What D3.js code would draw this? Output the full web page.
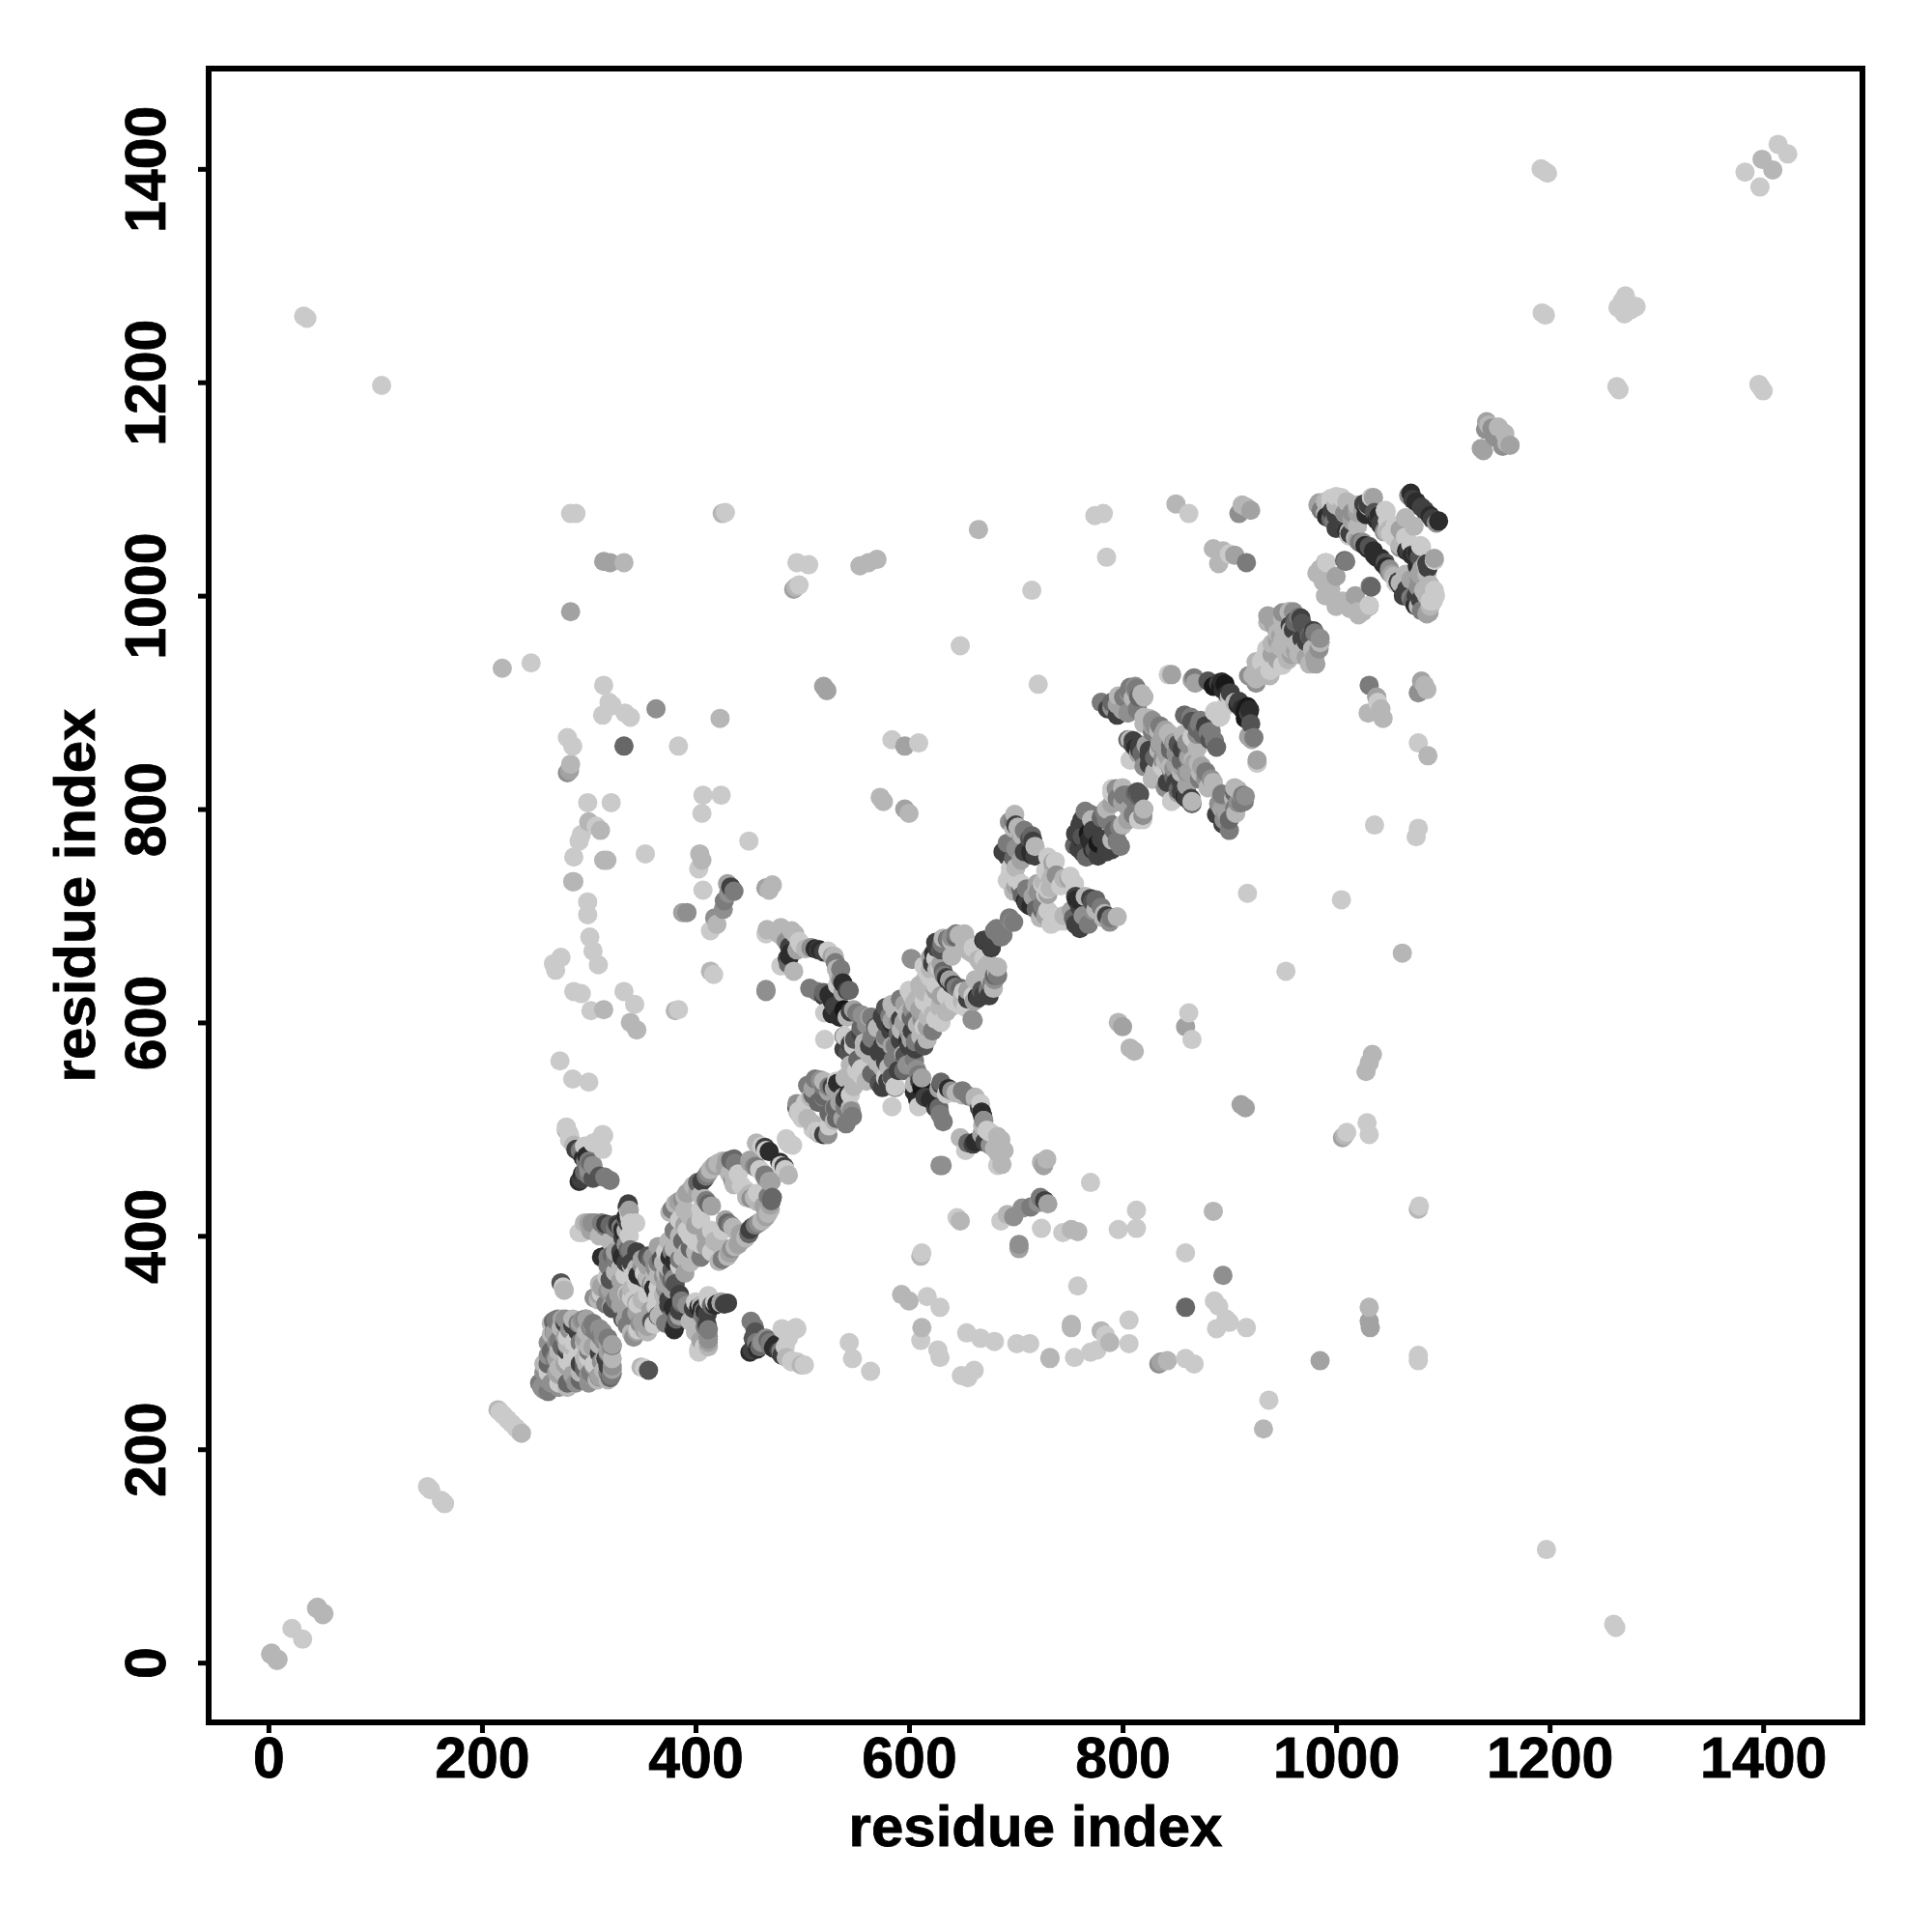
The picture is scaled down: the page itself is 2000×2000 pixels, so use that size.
<!DOCTYPE html>
<html><head><meta charset="utf-8">
<script src="https://cdn.jsdelivr.net/npm/d3@7/dist/d3.min.js"></script>
<style>html,body{margin:0;padding:0;background:#fff}svg{display:block}</style>
</head><body><svg id="c" width="2000" height="2000"></svg>
<script>
// Each contact: [residue i, residue j, strength 0..9]. The map is symmetric, so each is drawn at (i,j) and (j,i).
const termini = [[8,2,1],[9,3,1],[32,22,0],[51,45,1],[52,46,1],[164,150,0],[162,152,0],[165,149,0],
 [235,217,0],[232,220,0],[228,224,0],[237,215,1],[1262,33,0],[1260,36,0],[1197,106,0],
 [1398,1195,0],[1400,1192,0],[1396,1198,0],[1263,1196,0],[1265,1193,0],[1281,1271,0],[1270,1264,0],[1276,1268,0],
 [1397,1383,0],[1409,1399,1],[1423,1414,0],[1163,1141,2],[1157,1146,3],[1160,1143,1],[1156,1140,3],[1150,1148,3],[1158,1152,1],[1138,1136,2]];

const farContacts = [[1077,283,0],[1077,288,0],[1077,425,1],[1078,428,0],[1062,665,1],[1075,774,0],[1077,782,0],[1036,785,0],
 [1086,850,1],[1077,862,0],[1077,909,3],[1083,916,1],[1085,912,1],[1080,920,2],[1032,314,2],[1031,320,2],[1031,333,1],
 [1008,494,1],[1006,492,2],[1010,497,0],[1031,495,0],[1029,506,0],[1028,554,1],[1031,562,1],[1034,570,1],[1005,715,0],
 [1044,885,1],[1042,894,1],[1038,905,2],[1031,916,4],[1030,890,1],[1039,900,0],[985,283,2],[953,648,0],[932,219,1],[937,246,0],
 [915,520,2],[911,523,2],[917,721,0],[926,843,0],[921,865,1],[918,868,2],[916,314,0],[900,319,0],[888,313,0],[890,334,0],[886,339,0],[897,322,0],
 [894,363,3],[885,423,1],[859,333,5],[859,384,0],[867,280,0],[859,285,0],[834,280,3],[842,283,1],[836,282,2],
 [865,584,0],[859,596,2],[862,609,0],[806,299,0],[806,321,0],[813,407,0],[813,424,0],[796,406,0],[811,573,1],[807,576,1],[800,596,2],[796,600,1],
 [788,300,1],[784,307,0],[780,311,1],[752,314,1],[752,317,1],[776,293,0],[770,291,0],[755,286,0],[732,286,1],[732,285,1],[758,353,0],
 [758,404,1],[752,406,1],[744,403,0],[724,407,0],[770,450,0],[721,431,3],[714,427,4],[706,426,3],[698,418,3],[686,414,0],[692,420,1],[703,392,3],[703,388,2],
 [726,466,1],[724,469,1],[729,472,1],[713,299,0],[701,299,0],[680,301,0],[667,304,0],[654,309,0],[649,269,0],[661,274,0],[655,267,0],
 [629,286,0],[627,293,0],[611,302,0],[612,314,1],[629,333,0],[617,343,0],[600,339,1],[593,345,1],[611,381,1],[612,384,0],[648,414,1],[645,417,0],[631,466,3],[564,273,0],
 [547,285,0],[544,300,0],[584,521,0],[502,279,0],[490,282,0],[494,314,0],[687,467,1],[680,482,1],[466,629,3],[342,340,0],[466,726,2]];

const farCluster = [[683,478,1],[686,490,1],[676,497,0],[670,508,1],[668,516,1],[662,530,1],[650,536,4],[630,544,5],[628,538,2],[612,548,2],[605,542,1],
 [578,548,0],[723,436,4],[727,433,7],[730,430,2]];

const hairpins = [[499,279,1],[490,283,0],[481,288,7],[478,292,7],[475,298,8],[470,300,4],[466,304,3],[451,291,8],[455,296,7],[457,300,4],[456,310,6],[452,320,4],
 [495,313,0],[487,304,0],[481,313,0],[490,310,0],[484,296,0],
 [403,291,0],[412,300,2],[412,306,3],[412,312,4],[410,320,5],[407,325,4],[406,332,8],[412,337,7],[424,337,0],[430,337,7],[412,344,0],[418,338,0],
 [381,316,8],[382,322,5],[380,331,8],[387,337,5],[385,345,7],[381,355,6],[378,350,2],[372,340,1],
 [359,320,6],[345,310,2],[342,305,3],[332,322,6],[336,316,4],[321,334,2],[312,346,0],[317,361,0],[312,352,2],[309,340,1],[345,337,2],[336,346,0],[342,364,0],[351,361,8],[363,346,8],[359,355,4],[363,334,0],
 [379,333,8],[387,339,4],[380,318,4],[380,312,8],[403,333,8],[412,339,0],[427,336,7],[409,315,4],[412,303,3],[403,294,0],[408,330,4]];

const hairpinFill = [[345,328,2],[350,340,1],[355,345,0],[365,352,0],[370,345,1],[372,355,2],[365,362,1],[375,362,3],[358,330,2],[366,325,1],[372,318,4],[385,325,2],[392,335,3],[398,332,7],[395,320,1],[400,310,1],[405,302,2],[418,335,8],[424,338,2],[375,335,7],[370,330,1],[350,320,2],[355,310,1],[340,325,3],[330,335,2],[325,340,4],[318,348,3],[315,355,2],[325,365,6],[330,370,1],[340,375,7],[350,372,3],[358,378,5],[365,375,4],[330,385,7],[325,378,4],
 [408,296,0],[412,296,1],[411,316,7],[411,327,7],[409,329,8],[415,335,5],[420,336,8],[405,335,1],[400,338,0],
 [458,294,8],[453,293,7],[460,296,5],[462,300,3],[454,304,6],[455,315,4],[473,295,8],[480,292,4],[485,286,1],[495,282,0],[470,297,4],[468,302,5]];

const blob = [[262,254,4],[256,258,3],[280,258,1],[288,262,3],[292,265,5],[310,268,8],[318,265,1],[322,271,4],[265,262,3],[272,262,0],[270,272,2],[276,272,1],
 [296,275,5],[285,270,2],[300,270,1],[322,275,2],[318,278,7],[305,278,2],[283,280,0],[288,285,0],[296,285,1],[315,285,1],[280,296,5],[270,300,3],[292,300,4],
 [300,290,0],[310,290,7],[322,297,4],[318,300,2],[314,303,3],[311,306,4],[321,269,4],[321,294,3],[314,302,4],[356,274,6],[352,276,0],[349,277,1],
 [262,300,3],[268,310,2],[272,318,4],[278,322,3],[285,316,7],[290,318,4],[298,322,2],[304,318,4],[310,313,3],[278,280,2],[268,285,4],[262,280,5],[258,272,3],[272,292,1],[286,300,0],[280,305,0],[290,295,0],[296,300,1],[304,296,2],[310,298,1],[318,292,2],[322,285,1],[292,280,7],[298,280,1],[302,272,4],[308,265,1],[314,274,1],[312,282,3],[320,267,5]];

const helixA = [[380,376,8],[378,368,6],[385,372,0],[390,365,2],[380,360,3],[372,365,1],[360,355,1],[395,375,1],[405,380,4],[392,385,1],[415,385,0],[400,395,0],[405,392,0],[410,400,2],[418,395,1],[424,390,1],
 [430,381,1],[434,388,3],[440,392,2],[447,398,1],[451,406,7],[456,410,4],[462,414,1],[466,418,2],[470,425,1],[468,437,4],[471,433,5],[430,412,5],[435,408,1],[451,439,1],[447,443,0],[455,436,1],[448,436,1],
 [487,457,1],[484,462,0],[480,466,0],[479,469,8],[483,465,7],[469,451,2],[471,451,2],[465,455,3],[465,457,4],[462,460,0],[491,485,0],[488,486,0],
 [517,497,0],[513,498,0],[510,500,0],[510,505,1],[516,496,1],[520,495,7],[524,495,3],
 [432,384,2],[437,390,1],[444,396,2],[450,402,5],[453,408,7],[459,412,3],[464,416,1],[468,421,1],[470,429,2],[472,436,5],[425,378,4],[422,376,1],[428,415,2],[433,410,4],[438,405,1],[442,402,2],[425,405,0],[415,405,0],[410,390,2],[400,385,1],[395,388,5],[388,380,1],[385,378,4],[375,370,1],[370,362,3],[452,435,3],[458,432,1],[464,428,2],[458,440,0]];

const crossArms = [[547,512,4],[541,505,4],[543,533,8],[532,545,0],[531,520,5],[520,530,3],[517,546,3],[555,551,0],[556,557,0],[535,525,2],[525,540,4],
 [683,466,0],[689,480,1],[683,493,1],[673,499,0],[665,489,8],[660,486,7],[648,492,1],[653,480,0],[670,508,3],[668,516,8],[667,524,0],[656,531,4],[644,534,1],[630,542,7],[635,533,0],
 [632,507,4],[629,514,4],[626,525,8],[615,530,7],[608,528,8],[612,539,9],[609,551,4],[605,563,2],[609,521,0],
 [587,539,4],[584,548,0],[575,539,7],[578,563,7],[572,572,7],[581,558,1],[587,540,0],[572,543,6],[584,549,6],[555,556,0],
 [602,584,2],[617,596,2],[614,578,6],[623,608,1],[620,614,0],[629,614,0],[614,596,0],[605,602,5],[593,593,1],[599,584,8],[611,587,1],[587,578,4],[584,578,2],[596,569,6],[605,565,4],[614,629,1],[623,623,0],[600,590,3],[608,598,1],
 [676,485,3],[671,488,7],[668,495,2],[662,488,8],[655,487,5],[669,503,1],[669,512,8],[666,520,7],[662,528,2],[650,532,1],[637,538,8],[640,536,3],[625,520,7],[628,520,5],[620,528,8],[605,535,8],[610,545,7],[607,556,3],[606,575,7],[598,560,3],[595,555,5],[590,555,7],[560,545,1],[565,552,5],[575,558,1],[580,545,7],[548,540,1],[545,520,1],[538,510,2],[530,508,1],[525,503,0],[528,540,7],[538,530,2],[520,540,4],[515,525,5],[510,532,5],[595,600,2],[600,610,1],[610,612,2],[618,605,1],[625,603,0],[630,600,0],[612,603,3],[603,592,7],[590,590,5],[592,583,7],[606,582,4],[617,584,1],[622,592,4],[630,620,1],[635,625,0],[640,615,1],[635,610,1],[625,630,2],[600,578,7],[595,570,1],[585,565,4],[578,575,7],[570,563,1]];

const helixB = [[682,650,1],[683,644,4],[679,632,1],[670,626,7],[664,624,8],[659,603,3],[650,626,1],[644,633,4],[635,642,7],[629,651,0],[659,665,1],[667,656,1],[644,680,5],[631,674,4],[623,665,7],[652,683,1],[614,653,0],[602,660,3],[647,617,0],
 [677,670,8],[671,677,7],[686,680,4],[682,688,4],[697,694,3],[694,698,4],
 [676,640,1],[680,640,3],[675,625,7],[668,630,1],[662,640,1],[655,630,2],[648,632,5],[640,636,8],[638,640,2],[625,660,0],[630,668,6],[637,678,4],[647,682,1],[655,675,1],[660,670,0],[672,652,1],[678,636,5],[661,620,2],[655,622,7],[650,620,1],[642,620,0],
 [789,698,4],[783,702,1],[775,715,5],[772,713,6],[775,706,1],[757,715,8],[756,718,7],[760,708,7],[752,705,2],[756,692,7],[745,700,1],[733,692,0],[740,695,0],[723,698,1],[714,709,8],[721,722,3],[706,719,5],[750,735,2],[751,737,0],[735,750,2],[732,726,1],[725,730,0],
 [795,699,1],[785,700,7],[780,708,4],[770,716,7],[765,718,1],[760,714,8],[754,698,5],[745,695,0],[735,700,1],[728,700,2],[725,705,5],[710,712,7],[718,716,2],[735,733,1],[745,735,1],[742,728,0],[738,738,3],[755,730,0],[730,720,2],[720,728,0],[710,725,4],[705,730,0],[700,735,0],
 [788,694,3],[782,698,1],[768,692,4],[760,688,7],[763,700,3],[772,705,3],
 [798,765,4],[797,783,4],[790,771,1],[777,756,7],[777,768,9],[774,762,6],[763,759,7],[771,769,8],[819,790,0],[813,801,4],[816,814,6],[813,804,4],[819,794,3],[806,800,2],
 [785,760,7],[790,762,7],[795,770,4],[792,780,5],[785,790,4],[772,762,8],[780,772,7],[766,755,5],[805,790,2],[810,795,4],[800,785,1],[815,790,0],[820,800,1],[808,812,4],[812,815,5]];

const helixC = [[926,843,0],[921,866,2],[918,890,8],[909,901,7],[901,898,0],[893,919,8],[896,917,9],[867,923,4],[846,926,2],
 [914,807,4],[900,780,4],[894,786,7],[898,795,2],[904,810,1],[913,813,4],[893,814,4],[883,828,3],[871,843,1],[862,849,2],[852,861,6],[843,867,2],[834,873,1],[828,878,2],
 [865,807,1],[855,816,7],[846,808,0],[850,825,7],[840,837,0],[828,828,1],[834,855,1],[820,840,3],[810,864,7],[816,860,7],[807,846,0],
 [882,865,6],[886,864,4],[865,882,6],[871,876,5],[880,872,4],[865,867,0],[886,891,0],[892,887,0],[852,850,3],[860,845,5],[842,850,2],[848,838,3],
 [905,801,4],[900,790,5],[895,790,3],[908,806,3],[890,805,3],[885,825,1],[878,835,4],[874,840,2],[866,846,1],[856,856,7],[848,862,3],[838,870,2],[860,810,7],[858,812,2],[852,818,5],[842,825,7],[845,840,1],[838,845,3],[830,848,5],[825,855,7],[822,860,2],[812,858,8],[805,865,5],[815,852,2],[830,835,1],[878,878,7],[875,870,5],[870,870,3],[883,873,4],[888,858,5],[860,862,3],[857,870,1],[835,860,3],[845,855,5],[855,840,2],[862,835,2],[872,828,4],[880,820,1],[893,800,2],[888,795,7],[906,796,1],[911,806,4],[915,812,3],[905,815,5],[813,893,3],[820,886,1],[830,878,3],[912,812,3],[908,818,1],[905,820,1],
 [915,892,9],[912,894,8],[905,900,1],[898,908,8],[885,915,9],[890,918,7],[880,920,6]];

const helixC2 = [[985,956,2],[981,936,2],[976,961,6],[972,957,7],[967,979,7],[970,950,1],[965,945,1],[962,948,2],[955,940,1],[943,933,0],[938,930,0],[931,925,1],[925,918,3],[956,985,1],[960,968,2],[950,958,1],
 [975,936,1],[980,942,2],[978,950,1],[984,950,3],[972,942,2],[968,960,7],[963,955,1],[958,945,2],[952,948,1],[945,940,2],[950,935,0],[938,925,1],[925,922,1],[985,960,3],[980,965,4],[974,968,6],[962,975,5],[958,968,1],[950,978,1]];

const helixD = [[1094,1068,3],[1090,1072,7],[1088,1075,8],[1083,1080,7],[1073,1065,1],[1080,1046,0],[1079,1047,0],[1071,1038,8],[1068,1042,7],[1058,1051,0],[1060,1047,1],
 [1092,1033,0],[1080,1025,2],[1085,1020,1],[1092,1005,0],[1091,995,0],[1093,1000,0],[1077,1008,3],[1085,983,2],[1074,991,8],[1079,996,7],[1070,998,4],[1063,1000,7],[1058,1013,7],[1056,1012,0],[1050,1022,4],[1046,1031,6],
 [1047,1027,8],[1042,1035,8],[1032,1009,4],[1031,991,0],[1020,985,1],[1006,995,1],[1009,994,1],[1021,982,1],[1031,990,1],[1018,1000,2],[1087,984,2],[1077,990,1],[1096,1070,8],
 [1092,1035,2],[1086,1026,7],[1033,1008,5],
 [1085,1000,0],[1088,1010,1],[1084,1030,1],[1075,1040,1],[1066,1042,8],[1062,1050,1],[1054,1055,0],[1060,1062,2],[1055,1065,0],[1045,1060,3],[1048,1070,0],[1040,1075,8],[1030,1085,7],[1036,1078,6],[1028,1076,8],[1020,1078,2],[1015,1072,2],[1005,1082,1],[1000,1085,1],[995,1088,0],[1000,1075,7],[1006,1066,7],[1012,1060,1],[1020,1052,2],[1030,1044,8],[1038,1036,8],[1050,1025,3],[1054,1018,1],[1060,1010,8],[1066,1004,7],[1072,995,5],[1080,986,4],[1088,990,1],[1070,1015,2],[1078,1015,3],[1065,1020,1],[1000,990,1],[1013,988,1],[1025,985,1]];

const xTicks = [0,200,400,600,800,1000,1200,1400];
const yTicks = [0,200,400,600,800,1000,1200,1400];
const axisTitle = "residue index";

const svg = d3.select("#c");
const x = d3.scaleLinear().domain([-56,1493]).range([216,1928]);
const y = d3.scaleLinear().domain([-56,1494]).range([1783,71]);
const shade = d3.scaleLinear().domain([0,9]).range([202,24]);
const font = "'Liberation Sans', Arial, sans-serif";

const groups = [termini, farContacts, farCluster, blob, hairpins, hairpinFill, helixA, crossArms, helixB, helixC, helixC2, helixD];
const pts = [];
groups.forEach(g => g.forEach(d => { pts.push([d[0],d[1],d[2]]); pts.push([d[1],d[0],d[2]]); }));
pts.sort((a,b) => d3.ascending(a[0],b[0]) || d3.ascending(a[1],b[1]));

svg.append("g").selectAll("circle").data(pts).join("circle")
  .attr("cx", d => x(d[0])).attr("cy", d => y(d[1])).attr("r", 10)
  .attr("fill", d => { const v = Math.round(shade(d[2])); return `rgb(${v},${v},${v})`; });

svg.append("rect").attr("x",216).attr("y",71).attr("width",1712).attr("height",1712)
  .attr("fill","none").attr("stroke","#000").attr("stroke-width",6);

const gx = svg.append("g").attr("transform","translate(0,1783)")
  .call(d3.axisBottom(x).tickValues(xTicks).tickFormat(d3.format("d")).tickSize(11).tickPadding(0));
const gy = svg.append("g").attr("transform","translate(216,0)")
  .call(d3.axisLeft(y).tickValues(yTicks).tickFormat(d3.format("d")).tickSize(11).tickPadding(0));
[gx,gy].forEach(g => {
  g.select(".domain").remove();
  g.selectAll(".tick line").attr("stroke","#000").attr("stroke-width",5);
  g.selectAll(".tick text").attr("fill","#000").attr("stroke","#000").attr("stroke-width",0.8).style("font",`bold 59px ${font}`);
});
gx.selectAll(".tick text").attr("dy",null).attr("y",57);
gy.selectAll(".tick text").attr("dy",null).attr("x",null).attr("y",null)
  .attr("text-anchor","middle")
  .attr("transform", "translate(-45,0) rotate(-90)");

svg.append("text").attr("x",1072).attr("y",1911).attr("text-anchor","middle")
  .attr("stroke","#000").attr("stroke-width",0.8)
  .style("font",`bold 60px ${font}`).text(axisTitle);
svg.append("text").attr("transform","translate(98,927) rotate(-90)").attr("text-anchor","middle")
  .attr("stroke","#000").attr("stroke-width",0.8)
  .style("font",`bold 60px ${font}`).text(axisTitle);
</script></body></html>
